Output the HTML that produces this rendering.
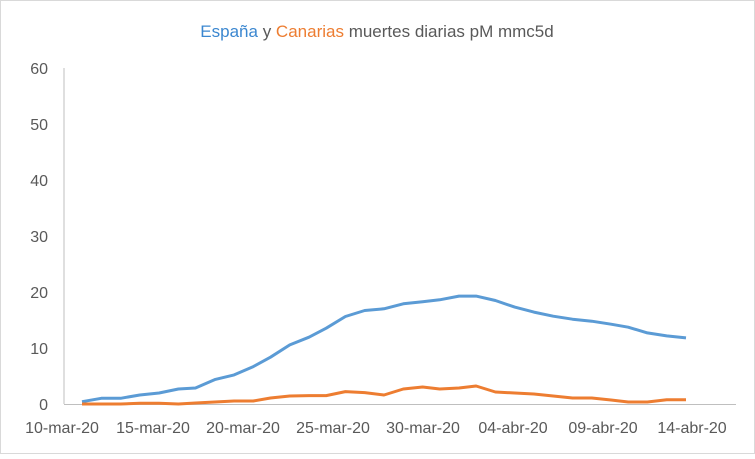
<!DOCTYPE html>
<html><head><meta charset="utf-8"><style>
body{margin:0;background:#fff;}
svg text{font-family:"Liberation Sans",sans-serif;}
</style></head><body>
<svg width="755" height="454" xmlns="http://www.w3.org/2000/svg">
<rect x="0.5" y="0.5" width="754" height="453" fill="#fff" stroke="#d9d9d9"/>
<text x="377" y="37" text-anchor="middle" font-size="17" fill="#595959"><tspan fill="#3b87d0">España</tspan> y <tspan fill="#ed7d31">Canarias</tspan> muertes diarias pM mmc5d</text>
<g font-size="16" fill="#595959" text-anchor="end">
<text x="48" y="74">60</text><text x="48" y="130">50</text><text x="48" y="186">40</text>
<text x="48" y="242">30</text><text x="48" y="298">20</text><text x="48" y="354">10</text><text x="48" y="410">0</text>
</g>
<g font-size="16" fill="#595959" text-anchor="middle">
<text x="62" y="433">10-mar-20</text><text x="153" y="433">15-mar-20</text><text x="243" y="433">20-mar-20</text>
<text x="333" y="433">25-mar-20</text><text x="423" y="433">30-mar-20</text><text x="513" y="433">04-abr-20</text>
<text x="603" y="433">09-abr-20</text><text x="692" y="433">14-abr-20</text>
</g>
<line x1="64" y1="68" x2="64" y2="404" stroke="#bfbfbf"/>
<line x1="64" y1="404.5" x2="736" y2="404.5" stroke="#bfbfbf"/>
<polyline id="b" fill="none" stroke="#5b9bd5" stroke-width="3" stroke-linejoin="round"/>
<polyline id="o" fill="none" stroke="#ed7d31" stroke-width="3" stroke-linejoin="round"/>
</svg>
<script>
var xs=[55,100,145,190,235,280,320,365,410,455,495,540,585,625,670,715,760,805,850,890,935,975,1020,1065,1110,1155,1200,1245,1290,1330,1375,1420,1465];
var b=[363,353,353,343,337,325,322,297,283,258,230,193,170,143,108,90,85,70,64,58,47,47,60,80,95,107,116,122,131,140,157,166,172];
var o=[370,370,370,368,368,370,367,364,361,361,352,346,345,345,333,336,343,325,319,325,322,316,334,337,340,346,352,352,358,364,364,357,357];
function pts(a){return a.map(function(y,i){return (82+(xs[i]-55)*604/1410).toFixed(1)+","+(404-(370-y)*0.334).toFixed(1)}).join(" ")}
document.getElementById("b").setAttribute("points",pts(b));
document.getElementById("o").setAttribute("points",pts(o));
</script>
</body></html>
